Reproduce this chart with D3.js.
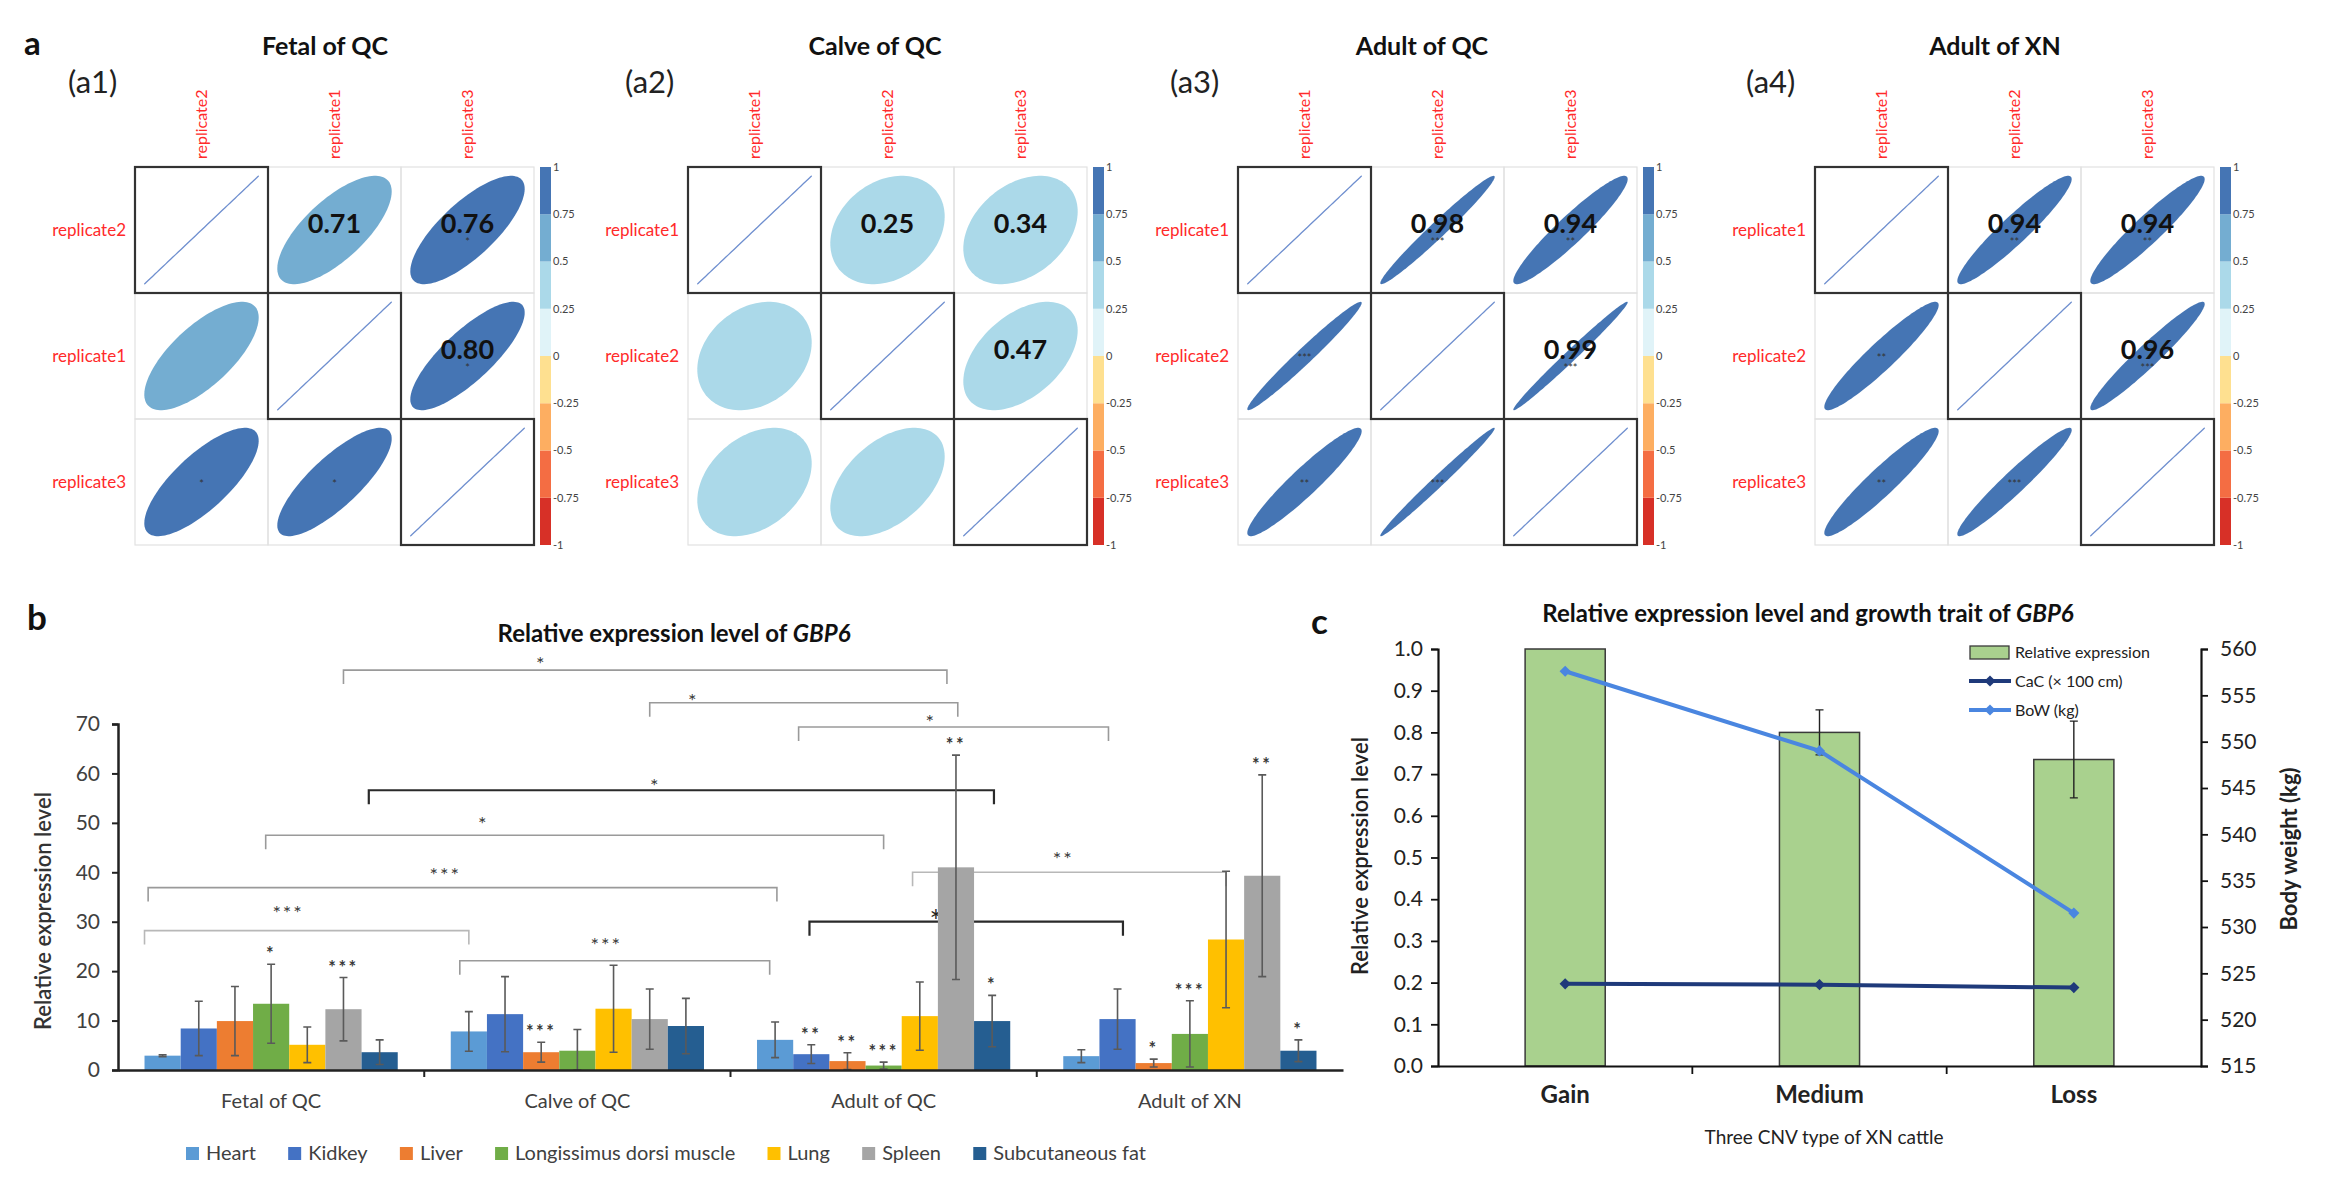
<!DOCTYPE html>
<html>
<head>
<meta charset="utf-8">
<script src="https://cdn.jsdelivr.net/npm/d3@7"></script>
<style>
  body { margin: 0; background: #fff; }
  svg text { font-family: Lato, "Open Sans", sans-serif; }
</style>
</head>
<body>
<div id="fig"></div>
<script>
/* ---------- data: panel a (correlation between replicates) ---------- */
const orderA1 = ["replicate2", "replicate1", "replicate3"];
const orderA2 = ["replicate1", "replicate2", "replicate3"];
const orderA3 = ["replicate1", "replicate2", "replicate3"];
const orderA4 = ["replicate1", "replicate2", "replicate3"];

const corrA1 = [[1, 0.71, 0.76], [0.71, 1, 0.80], [0.76, 0.80, 1]];
const corrA2 = [[1, 0.25, 0.34], [0.25, 1, 0.47], [0.34, 0.47, 1]];
const corrA3 = [[1, 0.98, 0.94], [0.98, 1, 0.99], [0.94, 0.99, 1]];
const corrA4 = [[1, 0.94, 0.94], [0.94, 1, 0.96], [0.94, 0.96, 1]];

const sigA1 = [["", "", "*"], ["", "", "*"], ["*", "*", ""]];
const sigA2 = [["", "", ""], ["", "", ""], ["", "", ""]];
const sigA3 = [["", "***", "**"], ["***", "", "***"], ["**", "***", ""]];
const sigA4 = [["", "**", "**"], ["**", "", "***"], ["**", "***", ""]];

const colorBreaks = [-0.75, -0.5, -0.25, 0, 0.25, 0.5, 0.75];
const colorBandsA = ["#d73027", "#f46d43", "#fdae61", "#fee090", "#e0f3f8", "#abd9e9", "#74add1", "#4575b4"];
const colorbarTicks = [1, 0.75, 0.5, 0.25, 0, -0.25, -0.5, -0.75, -1];

/* ---------- data: panel b (expression in tissues) ---------- */
const stagesB = ["Fetal of QC", "Calve of QC", "Adult of QC", "Adult of XN"];
const tissues = ["Heart", "Kidkey", "Liver", "Longissimus dorsi muscle", "Lung", "Spleen", "Subcutaneous fat"];
const exprFetal   = [2.9, 8.4, 9.9, 13.4, 5.1, 12.3, 3.6];
const errFetal    = [0.2, 5.5, 7.0, 8.0, 3.6, 6.4, 2.5];
const exprCalve   = [7.8, 11.3, 3.6, 3.9, 12.4, 10.3, 8.9];
const errCalve    = [4.0, 7.6, 2.0, 4.3, 8.8, 6.1, 5.6];
const exprAdultQC = [6.1, 3.2, 1.8, 0.9, 10.9, 41.0, 9.9];
const errAdultQC  = [3.6, 1.9, 1.7, 0.7, 6.9, 22.7, 5.2];
const exprAdultXN = [2.8, 10.3, 1.4, 7.3, 26.4, 39.3, 3.9];
const errAdultXN  = [1.3, 6.1, 0.8, 6.7, 13.8, 20.4, 2.2];
const sigFetal    = ["", "", "", "*", "", "***", ""];
const sigCalve    = ["", "", "***", "", "", "", ""];
const sigAdultQC  = ["", "**", "**", "***", "", "**", "*"];
const sigAdultXN  = ["", "", "*", "***", "", "**", "*"];
const tissueColors = ["#5b9bd5", "#4472c4", "#ed7d31", "#70ad47", "#ffc000", "#a5a5a5", "#255e91"];
const yTicksB = [0, 10, 20, 30, 40, 50, 60, 70];

/* comparison brackets: [stageFrom, barFrom, stageTo, barTo, level, label, labelStage, labelBar, labelLevel] */
const brackets = [
  [0, 5.0, 2, 4.75, 80.9, "*", 1, 2.0, 83.0],
  [1, 5.0, 2, 5.05, 74.3, "*", 1, 6.2, 75.6],
  [2, 0.65, 3, 0.75, 69.4, "*", 2, 4.3, 71.2],
  [0, 5.7, 2, 6.05, 56.6, "*", 1, 5.15, 58.3],
  [0, 2.85, 2, 3.0, 47.5, "*", 1, 0.4, 50.7],
  [0, -0.4, 2, 0.05, 36.9, "***", 1, -0.65, 40.2],
  [0, -0.5, 1, 0.0, 28.2, "***", 0, 3.47, 32.6],
  [1, -0.25, 2, -0.15, 22.1, "***", 1, 3.8, 26.2],
  [2, 3.8, 3, 4.0, 40.0, "**", 3, -0.5, 43.6],
  [2, 0.95, 3, 1.15, 30.0, "*", 2, 4.47, 31.4]
];

/* ---------- data: panel c (CNV types) ---------- */
const cnvTypes = ["Gain", "Medium", "Loss"];
const relExpr = [1.0, 0.80, 0.735];
const relErr = [0, 0.054, 0.092];
const cacValues = [0.197, 0.195, 0.188];
const bowValues = [557.6, 549.0, 531.5];
const yTicksCL = [0, 0.1, 0.2, 0.3, 0.4, 0.5, 0.6, 0.7, 0.8, 0.9, 1.0];
const yTicksCR = [515, 520, 525, 530, 535, 540, 545, 550, 555, 560];

/* ===================================================================== */
const svg = d3.select("#fig").append("svg")
  .attr("width", 2328).attr("height", 1191);

/* panel letters */
[["a", 24, 55, 33], ["b", 27, 630, 35], ["c", 1311, 634, 35]].forEach(([t, x, y, fs]) => {
  svg.append("text").text(t).attr("x", x).attr("y", y)
    .attr("font-size", fs).attr("font-weight", 700).attr("fill", "#111");
});

/* ----------------------------- panel a ----------------------------- */
const corrSets = [
  { title: "Fetal of QC", tag: "(a1)", order: orderA1, r: corrA1, sig: sigA1 },
  { title: "Calve of QC", tag: "(a2)", order: orderA2, r: corrA2, sig: sigA2 },
  { title: "Adult of QC", tag: "(a3)", order: orderA3, r: corrA3, sig: sigA3 },
  { title: "Adult of XN", tag: "(a4)", order: orderA4, r: corrA4, sig: sigA4 }
];
const aLeft = [135, 688, 1238, 1815];
const aTitleX = [325, 875, 1422, 1995];
const aTagX = [68, 625, 1170, 1746];
const cellW = 133, cellH = 126, aTop = 167;
const corrColor = d3.scaleThreshold().domain(colorBreaks).range(colorBandsA);
const labelFont = "Liberation Sans, Arial, sans-serif";

function ellipsePoints(r) {
  const a = Math.acos(Math.max(-1, Math.min(1, r)));
  return d3.range(0, 121).map(i => {
    const t = i / 120 * 2 * Math.PI;
    return [Math.cos(t + a / 2) / 2, Math.cos(t - a / 2) / 2];
  });
}

corrSets.forEach((set, p) => {
  const g = svg.append("g");
  const left = aLeft[p];
  const xs = d3.scaleBand().domain(set.order).range([left, left + 3 * cellW]);
  const ys = d3.scaleBand().domain(set.order).range([aTop, aTop + 3 * cellH]);

  g.append("text").text(set.title).attr("x", aTitleX[p]).attr("y", 55)
    .attr("text-anchor", "middle").attr("font-size", 25).attr("font-weight", 700).attr("fill", "#111");
  g.append("text").text(set.tag).attr("x", aTagX[p]).attr("y", 93)
    .attr("font-size", 31).attr("fill", "#222");

  // column and row labels
  set.order.forEach(name => {
    const cx = xs(name) + cellW / 2;
    g.append("text").text(name)
      .attr("transform", `translate(${cx},${aTop - 8}) rotate(-90)`)
      .attr("dy", "0.35em")
      .attr("font-family", labelFont)
      .attr("font-size", 16).attr("fill", "#ff2a2a");
    g.append("text").text(name)
      .attr("x", left - 9).attr("y", ys(name) + cellH / 2).attr("dy", "0.35em")
      .attr("text-anchor", "end")
      .attr("font-family", labelFont)
      .attr("font-size", 17).attr("fill", "#ff2a2a");
  });

  // cells
  set.order.forEach((rowName, i) => {
    set.order.forEach((colName, j) => {
      const x0 = xs(colName), y0 = ys(rowName);
      const cx = x0 + cellW / 2, cy = y0 + cellH / 2;
      g.append("rect").attr("x", x0).attr("y", y0).attr("width", cellW).attr("height", cellH)
        .attr("fill", "none").attr("stroke", "#e2e2e2").attr("stroke-width", 1.2);
      const r = set.r[i][j];
      const pts = ellipsePoints(r).map(([ex, ey]) => [cx + ex * cellW * 0.86, cy - ey * cellH * 0.86]);
      const path = g.append("path").attr("d", d3.line()(pts));
      if (i === j) {
        path.attr("fill", "none").attr("stroke", "#6f8fcf").attr("stroke-width", 1.3);
      } else {
        path.attr("fill", corrColor(r));
      }
      if (set.sig[i][j]) {
        g.append("text").text(set.sig[i][j]).attr("x", cx).attr("y", cy + (j > i ? 16 : 6))
          .attr("text-anchor", "middle").attr("font-size", 11).attr("fill", "#333");
      }
      if (j > i) {
        g.append("text").text(d3.format(".2f")(r)).attr("x", cx).attr("y", cy - 6)
          .attr("dy", "0.35em").attr("text-anchor", "middle")
          .attr("font-size", 27).attr("font-weight", 700).attr("fill", "#111");
      }
    });
  });
  // diagonal boxes
  set.order.forEach(name => {
    g.append("rect").attr("x", xs(name)).attr("y", ys(name)).attr("width", cellW).attr("height", cellH)
      .attr("fill", "none").attr("stroke", "#333").attr("stroke-width", 2.2);
  });

  // colour bar
  const cbX = left + 3 * cellW + 6;
  const cb = d3.scaleLinear().domain([-1, 1]).range([aTop + 3 * cellH, aTop]);
  colorBandsA.forEach((c, k) => {
    const lo = -1 + 0.25 * k, hi = lo + 0.25;
    g.append("rect").attr("x", cbX).attr("y", cb(hi)).attr("width", 11).attr("height", cb(lo) - cb(hi))
      .attr("fill", c);
  });
  colorbarTicks.forEach(v => {
    g.append("text").text(v).attr("x", cbX + 13).attr("y", cb(v)).attr("dy", "0.35em")
      .attr("font-family", labelFont)
      .attr("font-size", 11).attr("fill", "#444");
  });
});

/* ----------------------------- panel b ----------------------------- */
const exprB = [exprFetal, exprCalve, exprAdultQC, exprAdultXN];
const errB = [errFetal, errCalve, errAdultQC, errAdultXN];
const sigB = [sigFetal, sigCalve, sigAdultQC, sigAdultXN];

const xStage = d3.scaleBand().domain(stagesB).range([118, 1343]);
const xTissue = d3.scaleBand().domain(tissues).range([0, xStage.bandwidth()]).paddingOuter(0.733);
const yB = d3.scaleLinear().domain([0, 70]).range([1070, 724]);
const barW = xTissue.bandwidth();
const barCenter = (s, b) => xStage(stagesB[s]) + xTissue(tissues[0]) + xTissue.step() * b + barW / 2;

const gb = svg.append("g");
const titleB = gb.append("text").attr("x", 674).attr("y", 642).attr("text-anchor", "middle")
  .attr("font-size", 24).attr("font-weight", 700).attr("fill", "#111");
titleB.append("tspan").text("Relative expression level of ");
titleB.append("tspan").text("GBP6").attr("font-style", "italic");

// brackets
const bracketStyles = brackets.map((b, i) => ({
  stroke: (i === 3 || i === 9) ? "#2a2a2a" : (i === 6 || i === 8 ? "#b8b8b8" : "#9a9a9a"),
  width: (i === 3 || i === 9) ? 2.2 : 1.6,
  font: i === 9 ? 30 : 20
}));
brackets.forEach((b, i) => {
  const [s1, b1, s2, b2, lvl, lab, ls, lb, ll] = b;
  const st = bracketStyles[i];
  const xa = barCenter(s1, b1), xb = barCenter(s2, b2), y = yB(lvl);
  gb.append("path").attr("d", `M${xa},${y + 14}V${y}H${xb}V${y + 14}`)
    .attr("fill", "none").attr("stroke", st.stroke).attr("stroke-width", st.width);
  gb.append("text").text(lab).attr("x", barCenter(ls, lb)).attr("y", yB(ll) + st.font * 0.56)
    .attr("text-anchor", "middle").attr("font-size", st.font).attr("letter-spacing", 2)
    .attr("fill", i === 9 ? "#222" : "#3a3a3a");
});

// bars, error bars and marks
stagesB.forEach((stage, s) => {
  tissues.forEach((t, k) => {
    const v = exprB[s][k], e = errB[s][k];
    const x = xStage(stage) + xTissue(t);
    gb.append("rect").attr("x", x).attr("y", yB(v)).attr("width", barW).attr("height", yB(0) - yB(v))
      .attr("fill", tissueColors[k]);
    const cx = x + barW / 2;
    const top = yB(v + e), bot = yB(Math.max(0, v - e));
    gb.append("path").attr("d", `M${cx},${top}V${bot}M${cx - 4},${top}H${cx + 4}M${cx - 4},${bot}H${cx + 4}`)
      .attr("stroke", "#5a5a5a").attr("stroke-width", 1.6).attr("fill", "none");
    if (sigB[s][k]) {
      gb.append("text").text(sigB[s][k]).attr("x", cx).attr("y", top - 4)
        .attr("text-anchor", "middle").attr("font-size", 18).attr("font-weight", 700)
        .attr("letter-spacing", 2.5).attr("fill", "#3a3a3a");
    }
  });
});

// axes
const yAxisB = gb.append("g").attr("transform", "translate(118,0)")
  .call(d3.axisLeft(yB).tickValues(yTicksB).tickSize(6).tickPadding(12));
yAxisB.select(".domain").attr("stroke", "#222").attr("stroke-width", 2.5);
yAxisB.selectAll(".tick line").attr("stroke", "#222").attr("stroke-width", 2);
yAxisB.selectAll(".tick text").attr("font-size", 21).attr("fill", "#404040")
  .attr("font-family", "Lato, sans-serif");

const xAxisB = gb.append("g").attr("transform", `translate(0,${yB(0)})`)
  .call(d3.axisBottom(xStage).tickSize(0).tickPadding(24));
xAxisB.select(".domain").attr("stroke", "#222").attr("stroke-width", 2.5);
xAxisB.selectAll(".tick text").attr("font-size", 20).attr("fill", "#404040")
  .attr("font-family", "Lato, sans-serif");
stagesB.forEach((stage, s) => {
  if (s === 0) return;
  const x = xStage(stage);
  gb.append("line").attr("x1", x).attr("x2", x).attr("y1", yB(0)).attr("y2", yB(0) + 7)
    .attr("stroke", "#222").attr("stroke-width", 2);
});
gb.append("text").text("Relative expression level")
  .attr("transform", `translate(43,${(yB(0) + yB(70)) / 2 + 14}) rotate(-90)`)
  .attr("text-anchor", "middle").attr("dy", "0.35em")
  .attr("font-size", 22).attr("font-weight", 600).attr("fill", "#333");

// legend (spread across the same width as the reference legend)
const legB = gb.append("g");
const legItems = tissues.map((t, k) => {
  const item = legB.append("g");
  item.append("rect").attr("x", 0).attr("y", -6).attr("width", 13).attr("height", 13).attr("fill", tissueColors[k]);
  const tx = item.append("text").text(t).attr("x", 20).attr("dy", "0.35em")
    .attr("font-size", 20).attr("fill", "#404040");
  return { item, w: 20 + tx.node().getComputedTextLength() };
});
const legSpan = 960;
const legGap = (legSpan - d3.sum(legItems, d => d.w)) / (legItems.length - 1);
let lx = 0;
legItems.forEach(d => { d.item.attr("transform", `translate(${lx},0)`); lx += d.w + legGap; });
legB.attr("transform", "translate(186,1153)");

/* ----------------------------- panel c ----------------------------- */
const gc = svg.append("g");
const xC = d3.scaleBand().domain(cnvTypes).range([1438, 2201]);
const yCL = d3.scaleLinear().domain([0, 1]).range([1066, 649]);
const yCR = d3.scaleLinear().domain([515, 560]).range([1066, 649]);
const barWC = xC.bandwidth() * 0.315;

const titleC = gc.append("text").attr("x", 1808).attr("y", 622).attr("text-anchor", "middle")
  .attr("font-size", 24).attr("font-weight", 700).attr("fill", "#111");
titleC.append("tspan").text("Relative expression level and growth trait of ");
titleC.append("tspan").text("GBP6").attr("font-style", "italic");

cnvTypes.forEach((c, i) => {
  const x = xC(c) + (xC.bandwidth() - barWC) / 2;
  gc.append("rect").attr("x", x).attr("y", yCL(relExpr[i])).attr("width", barWC)
    .attr("height", yCL(0) - yCL(relExpr[i]))
    .attr("fill", "#a9d18e").attr("stroke", "#3a3a3a").attr("stroke-width", 1.5);
  if (relErr[i] > 0) {
    const cx = xC(c) + xC.bandwidth() / 2;
    const t = yCL(relExpr[i] + relErr[i]), b = yCL(relExpr[i] - relErr[i]);
    gc.append("path").attr("d", `M${cx},${t}V${b}M${cx - 4},${t}H${cx + 4}M${cx - 4},${b}H${cx + 4}`)
      .attr("stroke", "#222").attr("stroke-width", 1.4).attr("fill", "none");
  }
});

const diamond = d3.symbol().type(d3.symbolDiamond2 || d3.symbolDiamond).size(80);
const cxC = c => xC(c) + xC.bandwidth() / 2;
const lineCaC = d3.line().x((d, i) => cxC(cnvTypes[i])).y(d => yCL(d));
const lineBoW = d3.line().x((d, i) => cxC(cnvTypes[i])).y(d => yCR(d));
gc.append("path").attr("d", lineCaC(cacValues)).attr("fill", "none").attr("stroke", "#1f3a7a").attr("stroke-width", 4);
gc.append("path").attr("d", lineBoW(bowValues)).attr("fill", "none").attr("stroke", "#4a86e0").attr("stroke-width", 4);
cacValues.forEach((v, i) => gc.append("path").attr("d", diamond())
  .attr("transform", `translate(${cxC(cnvTypes[i])},${yCL(v)})`).attr("fill", "#1f3a7a"));
bowValues.forEach((v, i) => gc.append("path").attr("d", diamond())
  .attr("transform", `translate(${cxC(cnvTypes[i])},${yCR(v)})`).attr("fill", "#4a86e0"));

const axL = gc.append("g").attr("transform", "translate(1438,0)")
  .call(d3.axisLeft(yCL).tickValues(yTicksCL).tickFormat(d3.format(".1f")).tickSize(7).tickPadding(8));
const axR = gc.append("g").attr("transform", "translate(2201,0)")
  .call(d3.axisRight(yCR).tickValues(yTicksCR).tickSize(7).tickPadding(12));
[axL, axR].forEach(ax => {
  ax.select(".domain").attr("stroke", "#111").attr("stroke-width", 2.2);
  ax.selectAll(".tick line").attr("stroke", "#111").attr("stroke-width", 1.8);
  ax.selectAll(".tick text").attr("font-size", 21).attr("fill", "#222")
    .attr("font-family", "Lato, sans-serif");
});
const axB = gc.append("g").attr("transform", "translate(0,1066)")
  .call(d3.axisBottom(xC).tickSize(0).tickPadding(20));
axB.select(".domain").attr("stroke", "#111").attr("stroke-width", 2.2);
axB.selectAll(".tick text").attr("font-size", 24).attr("font-weight", 700).attr("fill", "#222")
  .attr("font-family", "Lato, sans-serif");
cnvTypes.forEach((c, i) => {
  if (i === 0) return;
  gc.append("line").attr("x1", xC(c)).attr("x2", xC(c)).attr("y1", 1066).attr("y2", 1074)
    .attr("stroke", "#111").attr("stroke-width", 1.8);
});

gc.append("text").text("Three CNV type of XN cattle").attr("x", 1824).attr("y", 1144)
  .attr("text-anchor", "middle").attr("font-size", 19).attr("fill", "#222");
gc.append("text").text("Relative expression level")
  .attr("transform", "translate(1360,856) rotate(-90)").attr("text-anchor", "middle").attr("dy", "0.35em")
  .attr("font-size", 22).attr("font-weight", 600).attr("fill", "#222");
gc.append("text").text("Body weight (kg)")
  .attr("transform", "translate(2289,849) rotate(-90)").attr("text-anchor", "middle").attr("dy", "0.35em")
  .attr("font-size", 22).attr("font-weight", 700).attr("fill", "#222");

// legend c
const legC = gc.append("g").attr("transform", "translate(1969,0)");
legC.append("rect").attr("x", 1).attr("y", 646).attr("width", 39).attr("height", 13)
  .attr("fill", "#a9d18e").attr("stroke", "#3a3a3a").attr("stroke-width", 1.3);
[["#1f3a7a", 681], ["#4a86e0", 710]].forEach(([col, y]) => {
  legC.append("line").attr("x1", 0).attr("x2", 42).attr("y1", y).attr("y2", y)
    .attr("stroke", col).attr("stroke-width", 4);
  legC.append("path").attr("d", diamond()).attr("transform", `translate(21,${y})`).attr("fill", col);
});
[["Relative expression", 652], ["CaC (\u00d7 100 cm)", 681], ["BoW (kg)", 710]].forEach(([t, y]) => {
  legC.append("text").text(t).attr("x", 46).attr("y", y).attr("dy", "0.35em")
    .attr("font-size", 16).attr("fill", "#222");
});
</script>
</body>
</html>
